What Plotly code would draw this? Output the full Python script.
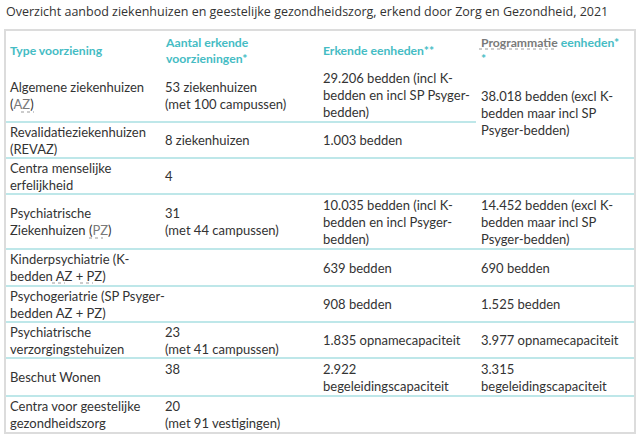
import plotly.graph_objects as go

# table content, one list per column
title = "Overzicht aanbod ziekenhuizen en geestelijke gezondheidszorg, erkend door Zorg en Gezondheid, 2021"

headers = [
    "Type voorziening",
    "Aantal erkende<br>voorzieningen*",
    "Erkende eenheden**",
    "<span style='color:#7a7a7a'>Programmatie</span> eenheden*<br>*",
]

types = [
    "Algemene ziekenhuizen<br>(<span style='color:#7a7a7a'>AZ</span>)",
    "Revalidatieziekenhuizen<br>(REVAZ)",
    "Centra menselijke<br>erfelijkheid",
    "Psychiatrische<br>Ziekenhuizen (<span style='color:#7a7a7a'>PZ</span>)",
    "Kinderpsychiatrie (K-<br>bedden AZ + PZ)",
    "Psychogeriatrie (SP Psyger-<br>bedden AZ + PZ)",
    "Psychiatrische<br>verzorgingstehuizen",
    "Beschut Wonen",
    "Centra voor geestelijke<br>gezondheidszorg",
]

aantal = [
    "53 ziekenhuizen<br>(met 100 campussen)",
    "8 ziekenhuizen",
    "4",
    "31<br>(met 44 campussen)",
    "",
    "",
    "23<br>(met 41 campussen)",
    "38<br>&nbsp;",
    "20<br>(met 91 vestigingen)",
]

erkend = [
    "29.206 bedden (incl K-<br>bedden en incl SP Psyger-<br>bedden)",
    "1.003 bedden",
    "",
    "10.035 bedden (incl K-<br>bedden en incl Psyger-<br>bedden)",
    "639 bedden",
    "908 bedden",
    "1.835 opnamecapaciteit",
    "2.922<br>begeleidingscapaciteit",
    "",
]

# None = cell merged with the one above (rowspan)
programmatie = [
    "38.018 bedden (excl K-<br>bedden maar incl SP<br>Psyger-bedden)",
    None,
    "",
    "14.452 bedden (excl K-<br>bedden maar incl SP<br>Psyger-bedden)",
    "690 bedden",
    "1.525 bedden",
    "3.977 opnamecapaciteit",
    "3.315<br>begeleidingscapaciteit",
    "",
]

W, H = 640, 436
TEAL = "#45bcc4"
TXT = "#333333"
LINE = "#7fd0d3"

col_x = [8, 163, 321, 479]
col_edges = [6, 160, 318, 476, 634]
header_top, header_bottom = 32, 68
row_lines = [122, 158, 194, 249, 286, 322, 358, 396, 432]

columns = [types, aantal, erkend, programmatie]

fig = go.Figure()
fig.add_trace(go.Scatter(x=[0, W], y=[0, H], mode="markers", marker=dict(opacity=0),
                         hoverinfo="skip", showlegend=False))

ann = []
shapes = []

ann.append(dict(x=4, y=11, xref="x", yref="y", text=title, showarrow=False,
                xanchor="left", yanchor="middle",
                font=dict(family="Open Sans", size=12.5, color=TXT)))

# header
hmid = (header_top + header_bottom) / 2
for c, h in enumerate(headers):
    ann.append(dict(x=col_x[c], y=hmid, xref="x", yref="y", text=h, showarrow=False,
                    xanchor="left", yanchor="middle", align="left",
                    font=dict(family="Lato", size=12.2, color=TEAL, weight="bold")))

# body
tops = [header_bottom] + row_lines[:-1]
for c, col in enumerate(columns):
    for r, txt in enumerate(col):
        if txt is None:
            continue
        top = tops[r]
        bottom = row_lines[r]
        # stretch across following merged rows
        k = r + 1
        while k < len(col) and col[k] is None:
            bottom = row_lines[k]
            k += 1
        if not txt:
            continue
        ann.append(dict(x=col_x[c], y=(top + bottom) / 2, xref="x", yref="y", text=txt,
                        showarrow=False, xanchor="left", yanchor="middle", align="left",
                        font=dict(family="Lato", size=13, color=TXT)))

# row separators, skipping columns whose cell continues below
for r, y in enumerate(row_lines[:-1]):
    x0 = col_edges[0]
    for c in range(4):
        nxt = columns[c][r + 1]
        if nxt is None:
            if col_edges[c] > x0:
                shapes.append(dict(type="line", xref="x", yref="y", x0=x0, x1=col_edges[c],
                                   y0=y, y1=y, line=dict(color=LINE, width=1.2)))
            x0 = col_edges[c + 1]
    if x0 < col_edges[-1]:
        shapes.append(dict(type="line", xref="x", yref="y", x0=x0, x1=col_edges[-1],
                           y0=y, y1=y, line=dict(color=LINE, width=1.2)))

# dotted abbreviation underlines
for x0, x1, y in [(479, 556, 49), (21, 34, 112), (89, 103, 238), (52, 65, 283), (80, 93, 283)]:
    shapes.append(dict(type="line", xref="x", yref="y", x0=x0, x1=x1, y0=y, y1=y,
                       line=dict(color="#999999", width=1, dash="dot")))

# outer border
shapes.append(dict(type="rect", xref="x", yref="y", x0=5, x1=635, y0=30, y1=433,
                   line=dict(color="#dcdcdc", width=2)))

fig.update_layout(
    width=W, height=H,
    margin=dict(l=0, r=0, t=0, b=0),
    paper_bgcolor="white", plot_bgcolor="white",
    xaxis=dict(range=[0, W], visible=False, fixedrange=True),
    yaxis=dict(range=[H, 0], visible=False, fixedrange=True),
    annotations=ann, shapes=shapes,
    showlegend=False,
)

fig.write_html("out.html", config={"displayModeBar": False},
               post_script="document.body.style.margin='0';")
